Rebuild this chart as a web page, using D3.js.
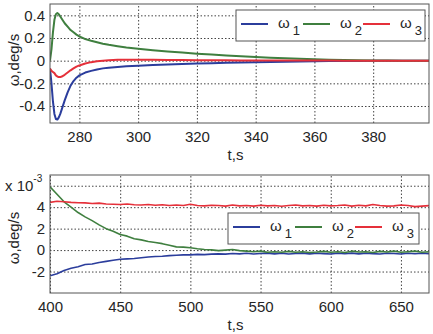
<!DOCTYPE html>
<html><head><meta charset="utf-8">
<script src="https://cdn.jsdelivr.net/npm/d3@7"></script>
<style>
body{margin:0;background:#fff;}
text{font-family:"Liberation Sans",Arial,sans-serif;fill:#262626;}
</style></head>
<body><svg id="c" width="433" height="334"></svg>
<script>
// ---- data ----
const seriesNames = ["1","2","3"];
const colors = ["#2b3d9c","#3f7f3f","#e5303a"];

// top panel
const tTop = [270,270.5,271,271.5,272,272.5,273,273.5,274,275,276,277,278,279,280,282,284,286,288,290,293,296,300,305,310,315,320,325,330,335,340,345,350,355,360,365,370,375,380,385,390,395,399];
const w1Top = [-0.07,-0.2,-0.36,-0.47,-0.515,-0.52,-0.5,-0.47,-0.43,-0.35,-0.28,-0.22,-0.18,-0.15,-0.13,-0.105,-0.09,-0.078,-0.068,-0.062,-0.055,-0.05,-0.044,-0.038,-0.033,-0.029,-0.025,-0.022,-0.019,-0.016,-0.013,-0.011,-0.009,-0.007,-0.005,-0.004,-0.003,-0.002,-0.001,-0.001,0,0,0];
const w2Top = [0.0,0.1,0.25,0.36,0.41,0.42,0.41,0.39,0.37,0.33,0.3,0.27,0.25,0.23,0.215,0.19,0.175,0.162,0.15,0.14,0.128,0.117,0.105,0.092,0.081,0.071,0.062,0.054,0.046,0.039,0.032,0.026,0.021,0.016,0.012,0.009,0.006,0.004,0.002,0.001,0,0,0];
const w3Top = [-0.07,-0.09,-0.1,-0.11,-0.13,-0.14,-0.145,-0.145,-0.14,-0.125,-0.105,-0.085,-0.068,-0.053,-0.042,-0.025,-0.013,-0.005,0.0,0.004,0.007,0.008,0.008,0.007,0.006,0.005,0.004,0.003,0.003,0.002,0.002,0.002,0.001,0.001,0.001,0.001,0,0,0,0,0,0,0];
const xTicksTop = [280,300,320,340,360,380];
const yTicksTop = [0.4,0.2,0,-0.2,-0.4];
const yLabelsTop = ["0.4","0.2","0","-0.2","-0.4"];

// bottom panel (values x 1e-3)
const tBot = [400,405,410,415,420,425,430,435,440,445,450,455,460,465,470,475,480,485,490,495,500,505,510,515,520,525,530,535,540,545,550,555,560,565,570,575,580,585,590,595,600,605,610,615,620,625,630,635,640,645,650,655,660,665,670];
const w1Bot = [-2.4,-2.2,-1.9,-1.7,-1.55,-1.35,-1.3,-1.15,-1.05,-0.95,-0.85,-0.82,-0.78,-0.72,-0.65,-0.6,-0.58,-0.52,-0.48,-0.45,-0.45,-0.4,-0.42,-0.38,-0.35,-0.38,-0.32,-0.35,-0.3,-0.36,-0.32,-0.28,-0.35,-0.3,-0.36,-0.32,-0.28,-0.35,-0.3,-0.33,-0.36,-0.3,-0.34,-0.28,-0.35,-0.3,-0.33,-0.37,-0.3,-0.32,-0.36,-0.3,-0.34,-0.3,-0.33];
const w2Bot = [5.9,5.2,4.5,4.0,3.5,3.1,2.75,2.35,2.0,1.75,1.45,1.3,1.05,0.95,0.8,0.7,0.6,0.45,0.3,0.28,0.22,0.12,0.05,0.02,-0.05,0.0,0.05,-0.05,-0.1,-0.15,-0.1,-0.2,-0.15,-0.2,-0.12,-0.2,-0.15,-0.22,-0.18,-0.12,-0.2,-0.15,-0.22,-0.1,-0.18,-0.15,-0.22,-0.12,-0.18,-0.1,-0.2,-0.15,-0.1,-0.2,-0.15];
const w3Bot = [4.45,4.55,4.5,4.45,4.42,4.4,4.35,4.38,4.3,4.28,4.25,4.3,4.22,4.2,4.25,4.18,4.22,4.15,4.2,4.15,4.28,4.15,4.12,4.18,4.15,4.1,4.2,4.12,4.15,4.1,4.18,4.12,4.15,4.08,4.15,4.2,4.12,4.15,4.1,4.18,4.12,4.15,4.2,4.1,4.18,4.12,4.25,4.15,4.1,4.12,4.2,4.15,4.05,4.1,4.15];
const xTicksBot = [400,450,500,550,600,650];
const yTicksBot = [6,4,2,0,-2];
const yLabelsBot = ["","4","2","0","-2"];

// ---- drawing ----
const svg = d3.select("#c");

function panel(o){
  const g = svg.append("g");
  const x = d3.scaleLinear().domain(o.xDomain).range([o.left,o.right]);
  const y = d3.scaleLinear().domain(o.yDomain).range([o.bottom,o.top]);
  const W = o.right-o.left, H = o.bottom-o.top;

  // grid
  const gx = g.append("g").attr("transform",`translate(0,${o.bottom})`)
    .call(d3.axisBottom(x).tickValues(o.xTicks).tickSize(-H).tickFormat(""));
  const gy = g.append("g").attr("transform",`translate(${o.left},0)`)
    .call(d3.axisLeft(y).tickValues(o.yTicks).tickSize(-W).tickFormat(""));
  [gx,gy].forEach(a=>{
    a.select(".domain").remove();
    a.selectAll("line").attr("stroke","#444").attr("stroke-width",1).attr("stroke-dasharray","1.5,2");
  });

  // lines
  const clipId = "clip"+o.id;
  svg.append("clipPath").attr("id",clipId).append("rect")
    .attr("x",o.left).attr("y",o.top).attr("width",W).attr("height",H);
  o.series.forEach((s,i)=>{
    const line = d3.line().x((d,k)=>x(o.t[k])).y(d=>y(d));
    g.append("path").datum(s).attr("d",line).attr("fill","none")
      .attr("stroke",colors[i]).attr("stroke-width",o.lw)
      .attr("stroke-linejoin","round").attr("clip-path",`url(#${clipId})`);
  });

  // frame
  g.append("rect").attr("x",o.left).attr("y",o.top).attr("width",W).attr("height",H)
    .attr("fill","none").attr("stroke","#555").attr("stroke-width",1);

  // tick labels
  const lx = g.append("g").attr("transform",`translate(0,${o.bottom})`)
    .call(d3.axisBottom(x).tickValues(o.xTicks).tickSize(0).tickPadding(8));
  lx.select(".domain").remove();
  lx.selectAll("text").attr("font-size",15).attr("fill","#262626");
  const ly = g.append("g").attr("transform",`translate(${o.left},0)`)
    .call(d3.axisLeft(y).tickValues(o.yTicks).tickSize(0).tickPadding(5)
      .tickFormat((d,i)=>o.yLabels[i]));
  ly.select(".domain").remove();
  ly.selectAll("text").attr("font-size",15).attr("fill","#262626");

  // axis titles
  g.append("text").attr("x",(o.left+o.right)/2-4).attr("y",o.bottom+37)
    .attr("text-anchor","middle").attr("font-size",15).text("t,s");
  g.append("text").attr("transform",`translate(${o.left-31},${o.ylabY}) rotate(-90)`)
    .attr("text-anchor","middle").attr("font-size",15).text("ω,deg/s");

  // legend
  const L = g.append("g").attr("transform",`translate(${o.lg[0]},${o.lg[1]})`);
  L.append("rect").attr("width",o.lg[2]).attr("height",31).attr("fill","#fff")
    .attr("stroke","#555").attr("stroke-width",1);
  const offs = [5,67,127];
  seriesNames.forEach((n,i)=>{
    L.append("line").attr("x1",offs[i]).attr("x2",offs[i]+27).attr("y1",14).attr("y2",14)
      .attr("stroke",colors[i]).attr("stroke-width",2);
    const t = L.append("text").attr("x",offs[i]+37).attr("y",18).attr("font-size",15);
    t.append("tspan").text("ω");
    t.append("tspan").attr("dx",3).attr("dy",7).attr("font-size",13).text(n);
  });
  return {x,y,g};
}

panel({id:"a",xDomain:[270,399],yDomain:[-0.55,0.5],left:50,right:429,top:4,bottom:123,
  xTicks:xTicksTop,yTicks:yTicksTop,yLabels:yLabelsTop,t:tTop,series:[w1Top,w2Top,w3Top],
  lw:2,ylabY:60,lg:[236,10,189]});
const p2 = panel({id:"b",xDomain:[400,670],yDomain:[-4,7],left:50,right:429,top:175,bottom:293,
  xTicks:xTicksBot,yTicks:yTicksBot,yLabels:yLabelsBot,t:tBot,series:[w1Bot,w2Bot,w3Bot],
  lw:1.6,ylabY:238,lg:[228,213,191]});

// exponent label
const ex = svg.append("text").attr("x",5).attr("y",191).attr("font-size",15);
ex.append("tspan").text("x 10");
ex.append("tspan").attr("dy",-9).attr("font-size",10).text("-3");
</script></body></html>
